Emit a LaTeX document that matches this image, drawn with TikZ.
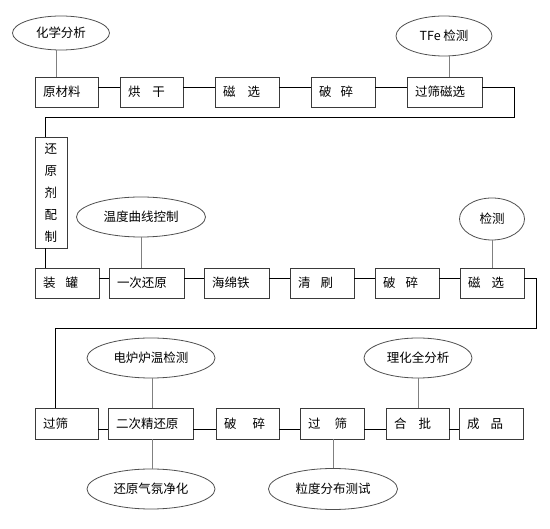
\documentclass[tikz,border=0pt]{standalone}
\usepackage{fontspec}
\newfontfamily\cjk{Noto Sans CJK SC}
\usetikzlibrary{shapes.geometric}
\definecolor{boxc}{HTML}{3A3A3A}
\definecolor{ellc}{HTML}{505050}
\definecolor{linkc}{HTML}{808080}
\tikzset{
  box/.style={draw=boxc, line width=0.8pt, minimum height=30pt, inner xsep=8pt, inner ysep=0pt,
    align=left, font=\cjk\fontsize{12.5}{22}\selectfont},
  ell/.style={ellipse, draw=ellc, line width=0.8pt, inner sep=0pt, font=\cjk\fontsize{12.5}{14}\selectfont},
  flow/.style={draw=black, line width=0.8pt},
  link/.style={draw=linkc, line width=0.9pt}
}
\newcommand{\gp}[1]{\hspace{#1pt}}
\begin{document}
\begin{tikzpicture}[x=1pt,y=-1pt]
\path[use as bounding box, fill=white] (0,0) rectangle (550,529);
% row 1
\node[box, text width=47pt] (r1a) at (66.5,92) {原材料};
\node[box, text width=47pt] (r1b) at (151.5,92) {烘\gp{12}干};
\node[box, text width=48pt] (r1c) at (247,92) {磁\gp{12}选};
\node[box, text width=48pt] (r1d) at (343,92) {破\gp{9}碎};
\node[box, text width=59pt] (r1e) at (444.5,92) {过筛磁选};
\node[ell, minimum width=97pt, minimum height=34pt] (e1) at (61,33) {化学分析};
\node[ell, minimum width=96pt, minimum height=40pt] (e2) at (444,36) {TFe 检测};
% vertical box
\node[box, text width=16pt, minimum height=111pt, align=center] (rv) at (51,192.5) {还\\原\\剂\\配\\制};
% row 2
\node[box, text width=48pt] (r2a) at (67,283) {装\gp{10}罐};
\node[box, text width=59pt] (r2b) at (146.5,283) {一次还原};
\node[box, text width=49pt] (r2c) at (236.5,283) {海绵铁};
\node[box, text width=48pt] (r2d) at (322,283) {清\gp{10}刷};
\node[box, text width=48pt] (r2e) at (407,283) {破\gp{10}碎};
\node[box, text width=48pt] (r2f) at (492,283) {磁\gp{11}选};
\node[ell, minimum width=129pt, minimum height=40pt] (e3) at (141,217) {温度曲线控制};
\node[ell, minimum width=65pt, minimum height=42pt] (e4) at (492,219) {检测};
% row 3
\node[box, text width=47pt, minimum height=31pt] (r3a) at (66.5,423.5) {过筛};
\node[box, text width=69pt, minimum height=31pt] (r3b) at (150.5,423.5) {二次精还原};
\node[box, text width=47pt, minimum height=31pt] (r3c) at (247.5,423.5) {破\gp{16}碎};
\node[box, text width=48pt, minimum height=31pt] (r3d) at (332,423.5) {过\gp{14}筛};
\node[box, text width=47pt, minimum height=31pt] (r3e) at (417.5,423.5) {合\gp{12}批};
\node[box, text width=48pt, minimum height=31pt] (r3f) at (491,423.5) {成\gp{11}品};
\node[ell, minimum width=128pt, minimum height=40pt] (e5) at (151,358) {电炉炉温检测};
\node[ell, minimum width=128pt, minimum height=40pt] (e6) at (151,489) {还原气氛净化};
\node[ell, minimum width=108pt, minimum height=40pt] (e7) at (418,358) {理化全分析};
\node[ell, minimum width=129pt, minimum height=41pt] (e8) at (333,489) {粒度分布测试};
% coordinates for long connectors
\coordinate (k1) at (514,117);
\coordinate (k2) at (45,117);
\coordinate (k3) at (536,328);
\coordinate (k4) at (55,328);
% row 1 connectors
\foreach \a/\b in {r1a/r1b, r1b/r1c, r1c/r1d, r1d/r1e}
  \draw[flow] ([yshift=5pt]\a.east) -- ([yshift=5pt]\b.west);
\draw[flow] ([yshift=5pt]r1e.east) -| (k1) -- (k2) -- (k2 |- rv.north);
\draw[flow] (rv.south -| k2) -- (k2 |- r2a.north);
% row 2 connectors
\foreach \a/\b in {r2a/r2b, r2b/r2c, r2c/r2d, r2d/r2e, r2e/r2f}
  \draw[flow] ([yshift=5pt]\a.east) -- ([yshift=5pt]\b.west);
\draw[flow] ([yshift=5pt]r2f.east) -| (k3) -- (k4) -- (k4 |- r3a.north);
% row 3 connectors
\foreach \a/\b in {r3a/r3b, r3b/r3c, r3c/r3d, r3d/r3e, r3e/r3f}
  \draw[flow] ([yshift=-5.5pt]\a.east) -- ([yshift=-5.5pt]\b.west);
% ellipse links
\draw[link] ([xshift=-5pt]e1.south) -- ([xshift=-5pt]e1.south |- r1a.north);
\draw[link] ([xshift=5pt]e2.south) -- ([xshift=5pt]e2.south |- r1e.north);
\draw[link] (e3.south) -- (e3.south |- r2b.north);
\draw[link] (e4.south) -- (e4.south |- r2f.north);
\draw[link] ([xshift=1pt]e5.south) -- ([xshift=1pt]e5.south |- r3b.north);
\draw[link] ([xshift=1pt]e6.north) -- ([xshift=1pt]e6.north |- r3b.south);
\draw[link] (e7.south) -- (e7.south |- r3e.north);
\draw[link] (e8.north) -- (e8.north |- r3d.south);
\end{tikzpicture}
\end{document}
